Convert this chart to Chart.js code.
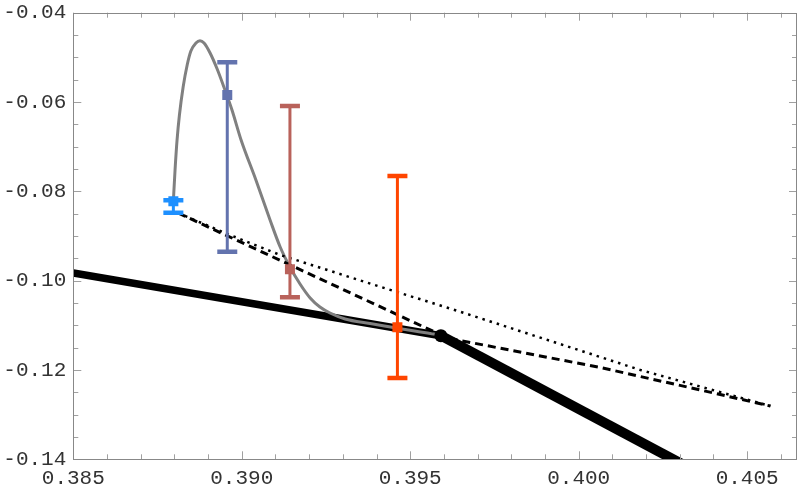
<!DOCTYPE html>
<html><head><meta charset="utf-8">
<script src="https://cdn.jsdelivr.net/npm/chart.js@4.4.0/dist/chart.umd.min.js"></script>
<style>html,body{margin:0;padding:0;background:#fff}#wrap{width:797px;height:492px}</style>
</head><body><div id="wrap"><canvas id="c" width="797" height="492"></canvas></div>
<script>
// ---- tick labels ----
const X_MAJOR = [0.385, 0.390, 0.395, 0.400, 0.405];
const Y_MAJOR = [-0.14, -0.12, -0.10, -0.08, -0.06, -0.04];

// ---- thick black line ----
const thickX = [0.385, 0.39591, 0.40343];
const thickY = [-0.0983, -0.11232, -0.1425];

// ---- gray curve ----
const grayX = [0.38797,0.38802,0.38808,0.38815,0.38826,0.38838,0.38849,0.38864,0.38876,0.38888,0.38906,0.38927,0.38947,0.38971,0.38998,0.39042,0.39084,0.39114,0.39143,0.39173,0.39203,0.39232,0.39262,0.39307,0.39381,0.39470,0.39592];
const grayY = [-0.08216,-0.07522,-0.06850,-0.06291,-0.05664,-0.05171,-0.04858,-0.04678,-0.04627,-0.04678,-0.04902,-0.05261,-0.05664,-0.06179,-0.06850,-0.07746,-0.08642,-0.09246,-0.09694,-0.10075,-0.10388,-0.10590,-0.10724,-0.10858,-0.10959,-0.11077,-0.11217];

// ---- dashed line ----
const dashX = [0.38811, 0.39592, 0.39633, 0.40064, 0.40361, 0.40569];
const dashY = [-0.08485, -0.11217, -0.11318, -0.11944, -0.12448, -0.12807];

// ---- dotted line ----
const dotX = [0.38811, 0.38965, 0.39114, 0.39366, 0.39648, 0.40183, 0.40569];
const dotY = [-0.08485, -0.08978, -0.09425, -0.10030, -0.10695, -0.12000, -0.12807];

// ---- error bars ----
const ebX   = [0.38797, 0.38957, 0.39143, 0.39462];
const ebMid = [-0.0822, -0.05843, -0.09746, -0.11044];
const ebHi  = [-0.0820, -0.05111, -0.06089, -0.07657];
const ebLo  = [-0.0848, -0.09352, -0.10373, -0.12180];
const ebColors = ['#1e90ff', '#6373ae', '#b9625b', '#ff4500'];

// ---- black dot ----
const dotPt = [0.39591, -0.11232];

const pts = (xs, ys) => xs.map((x, i) => ({x, y: ys[i]}));

const datasets = [];
datasets.push({data: pts(thickX.slice(0,2), thickY.slice(0,2)), showLine:true, borderColor:'#000', borderWidth:7.5, pointRadius:0, clip:0, order:20, borderCapStyle:'butt'});
datasets.push({data: pts(thickX.slice(1), thickY.slice(1)), showLine:true, borderColor:'#000', borderWidth:10, pointRadius:0, clip:0, order:19, borderCapStyle:'butt'});
datasets.push({data: pts(grayX, grayY), showLine:true, borderColor:'#808080', borderWidth:3, pointRadius:0, cubicInterpolationMode:'monotone', order:18});
datasets.push({data: pts(dashX, dashY), showLine:true, borderColor:'#000', borderWidth:3, borderDash:[8,5], pointRadius:0, order:17});
datasets.push({data: pts(dotX, dotY), showLine:true, borderColor:'#000', borderWidth:2.5, borderDash:[2.5,5], pointRadius:0, order:16});
ebX.forEach((x, i) => {
  datasets.push({data:[{x, y:ebLo[i]}, {x, y:ebHi[i]}], showLine:true, borderColor:ebColors[i], borderWidth:3,
    pointStyle:'line', pointRadius:10, pointBorderWidth:4.5, pointBorderColor:ebColors[i], order:10 - i*2});
  datasets.push({data:[{x, y:ebMid[i]}], showLine:false, pointStyle:'rect', pointRadius:7.07,
    pointBorderWidth:0, pointBackgroundColor:ebColors[i], order:9 - i*2});
});
datasets.push({data:[{x:dotPt[0], y:dotPt[1]}], showLine:false, pointStyle:'circle', pointRadius:6.5,
  pointBorderWidth:0, pointBackgroundColor:'#000', order:0});

const framePlugin = {
  id: 'frame',
  afterDatasetsDraw(chart) {
    const {ctx, chartArea: a, scales: {x, y}} = chart;
    ctx.save();
    ctx.lineWidth = 1;
    ctx.strokeStyle = '#a0a0a0';
    ctx.beginPath();
    for (let i = 385; i <= 406; i++) {
      const px = Math.round(x.getPixelForValue(i / 1000)) + 0.5;
      const len = (i % 5 === 0) ? 8 : 5;
      ctx.moveTo(px, a.bottom); ctx.lineTo(px, a.bottom - len);
      ctx.moveTo(px, a.top); ctx.lineTo(px, a.top + len);
    }
    for (let i = -140; i <= -40; i += 5) {
      const py = Math.round(y.getPixelForValue(i / 1000)) + 0.5;
      const len = (i % 20 === 0) ? 8 : 5;
      ctx.moveTo(a.left, py); ctx.lineTo(a.left + len, py);
      ctx.moveTo(a.right, py); ctx.lineTo(a.right - len, py);
    }
    ctx.stroke();
    ctx.strokeStyle = '#888';
    ctx.strokeRect(Math.round(a.left) + 0.5, Math.round(a.top) + 0.5,
      Math.round(a.right) - Math.round(a.left) - 1, Math.round(a.bottom) - Math.round(a.top));
    ctx.restore();
  }
};

const font = {family: "'Liberation Mono', 'Courier New', monospace", size: 21};

new Chart(document.getElementById('c'), {
  type: 'scatter',
  data: {datasets},
  options: {
    responsive: false,
    animation: false,
    devicePixelRatio: 1,
    layout: {autoPadding: false, padding: {top: 12.7, right: 0, left: 0, bottom: 0}},
    plugins: {legend: {display: false}, tooltip: {enabled: false}},
    elements: {line: {tension: 0}},
    scales: {
      x: {
        type: 'linear', min: 0.385, max: 0.40648,
        grid: {display: false, drawTicks: false}, border: {display: false},
        ticks: {font, color: '#333', padding: 7, maxRotation: 0, autoSkip: false,
          callback: v => Number(v).toFixed(3)},
        afterBuildTicks: s => { s.ticks = X_MAJOR.map(v => ({value: v})); },
        afterFit: s => { s.height = 32.7; s.paddingLeft = 0; s.paddingRight = 0; }
      },
      y: {
        type: 'linear', min: -0.14, max: -0.04,
        grid: {display: false, drawTicks: false}, border: {display: false},
        ticks: {font, color: '#333', padding: 7, autoSkip: false,
          callback: v => Number(v).toFixed(2)},
        afterBuildTicks: s => { s.ticks = Y_MAJOR.map(v => ({value: v})); },
        afterFit: s => { s.width = 73.3; s.paddingTop = 0; s.paddingBottom = 0; }
      }
    }
  },
  plugins: [framePlugin]
});
</script>
</body></html>
